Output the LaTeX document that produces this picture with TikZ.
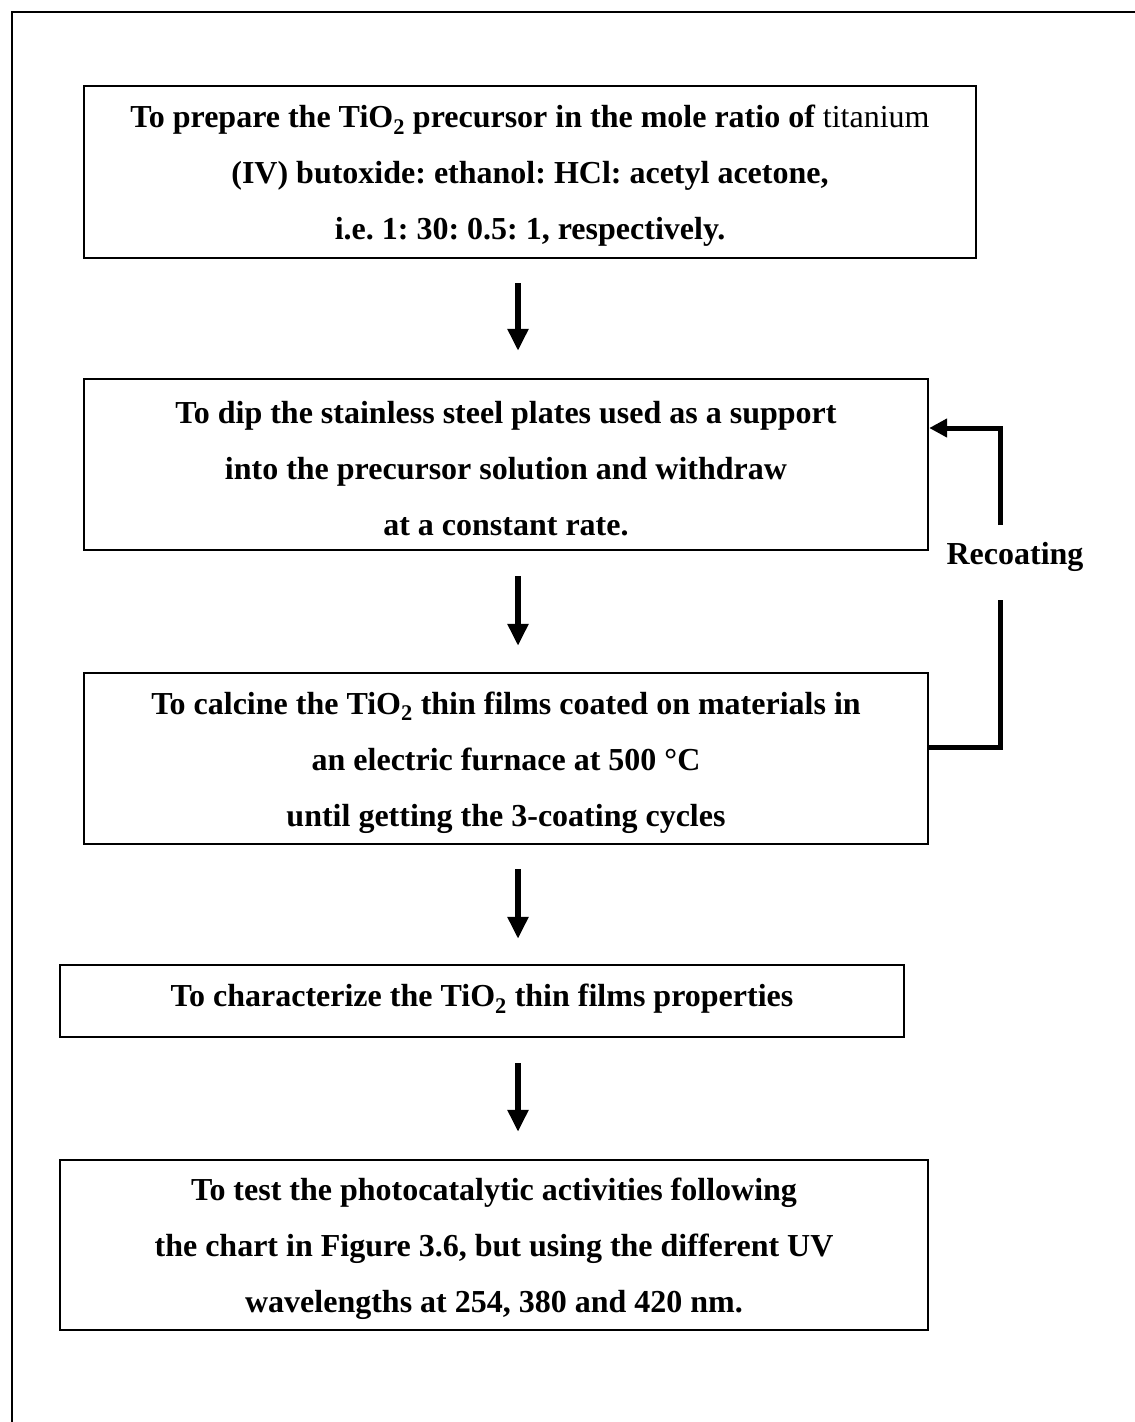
\documentclass[tikz,border=0pt]{standalone}
\usepackage{fontspec}
\setmainfont{Liberation Serif}
\usetikzlibrary{arrows.meta,calc}
\begin{document}
\frenchspacing
\begin{tikzpicture}[x=1pt,y=-1pt,
  boxframe/.style={draw, line width=2.4pt, inner sep=0pt},
  boxtext/.style={inner sep=0pt, align=center,
    font=\fontsize{32}{56}\selectfont\bfseries},
  flowarrow/.style={line width=6pt, -{Triangle[length=22pt,width=20pt]}},
  recoat/.style={line width=5pt},
  frame/.style={line width=2pt}]
\useasboundingbox (0,0) rectangle (1135,1422);
\draw[frame] (12,1422) -- (12,12) -- (1135,12);

\node[boxframe, minimum width=892pt, minimum height=172pt] (b1) at (530,172) {};
\node[boxtext] (t1) at ($(b1.center)+(0,4)$)
  {To prepare the TiO\textsubscript{2} precursor in the mole ratio of {\mdseries titanium}\\
   (IV) butoxide: ethanol: HCl: acetyl acetone,\\
   i.e. 1: 30: 0.5: 1, respectively.};
\node[boxframe, minimum width=844pt, minimum height=171pt] (b2) at (506,464.5) {};
\node[boxtext] (t2) at ($(b2.center)+(0,4)$)
  {To dip the stainless steel plates used as a support\\
   into the precursor solution and withdraw\\
   at a constant rate.};
\node[boxframe, minimum width=844pt, minimum height=171pt] (b3) at (506,758.5) {};
\node[boxtext] (t3) at ($(b3.center)+(0,4)$)
  {To calcine the TiO\textsubscript{2} thin films coated on materials in\\
   an electric furnace at 500 °C\\
   until getting the 3-coating cycles};
\node[boxframe, minimum width=844pt, minimum height=72pt] (b4) at (482,1001) {};
\node[boxtext] (t4) at ($(b4.center)+(0,-2)$)
  {To characterize the TiO\textsubscript{2} thin films properties};
\node[boxframe, minimum width=868pt, minimum height=170pt] (b5) at (494,1245) {};
\node[boxtext] (t5) at ($(b5.center)+(0,4)$)
  {To test the photocatalytic activities following\\
   the chart in Figure 3.6, but using the different UV\\
   wavelengths at 254, 380 and 420 nm.};

\coordinate (ax) at (518,0);
\draw[flowarrow, shorten <=24pt, shorten >=27pt] (b1.south -| ax) -- (b2.north -| ax);
\draw[flowarrow, shorten <=25pt, shorten >=26pt] (b2.south -| ax) -- (b3.north -| ax);
\draw[flowarrow, shorten <=24pt, shorten >=25pt] (b3.south -| ax) -- (b4.north -| ax);
\draw[flowarrow, shorten <=25pt, shorten >=27pt] (b4.south -| ax) -- (b5.north -| ax);

\node[font=\fontsize{32}{36}\selectfont\bfseries, inner sep=0pt] (rec) at (1015,557) {Recoating};
\coordinate (rx) at (1000,0);
\coordinate (lowy) at (0,747);
\coordinate (topy) at (0,428);
\draw[recoat] (b3.east |- lowy) -- (rx |- lowy) -- (rx |- 0,600);
\draw[recoat, -{Triangle[length=18pt,width=18pt]}] (rx |- 0,525) -- (rx |- topy) -- (b2.east |- topy);
\end{tikzpicture}
\end{document}
